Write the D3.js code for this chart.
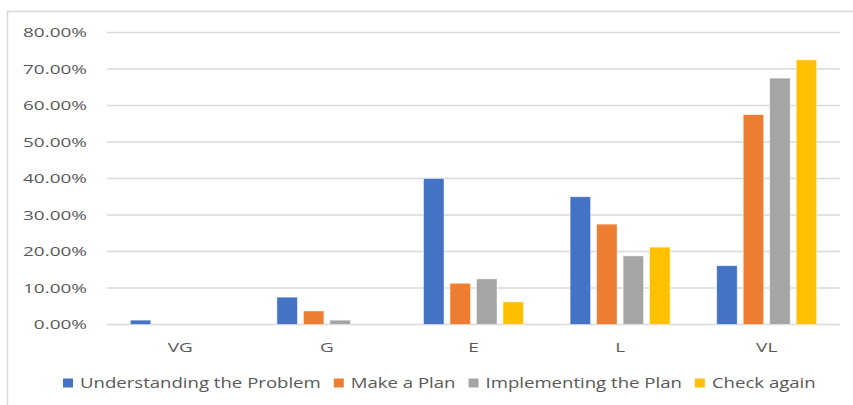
<!DOCTYPE html>
<html><head><meta charset="utf-8">
<script src="https://cdn.jsdelivr.net/npm/d3@7"></script>
<style>
html,body{margin:0;padding:0;background:#fff;}
svg{display:block;font-family:"Open Sans","Noto Sans",sans-serif;}
</style></head>
<body>
<svg id="chart" width="853" height="405"></svg>
<script>
const categories = ["VG", "G", "E", "L", "VL"];
const seriesNames = ["Understanding the Problem", "Make a Plan", "Implementing the Plan", "Check again"];
const understanding = [1.2, 7.5, 40.0, 35.0, 16.1];
const makePlan = [0, 3.7, 11.3, 27.5, 57.5];
const implementing = [0, 1.2, 12.5, 18.8, 67.5];
const checkAgain = [0, 0, 6.2, 21.2, 72.5];
const colors = ["#4472C4", "#ED7D31", "#A5A5A5", "#FFC000"];
const yTicks = [0, 10, 20, 30, 40, 50, 60, 70, 80];

(function () {
const series = [understanding, makePlan, implementing, checkAgain];
const svg = d3.select("#chart");
const textColor = "#595959";
const fontFam = "\"Open Sans\",sans-serif";

function measure(str, size) {
  const t = svg.append("text").attr("font-family", fontFam).attr("font-size", size).text(str);
  const w = t.node().getComputedTextLength();
  t.remove();
  return w;
}

// border
svg.append("path").attr("d", "M7.5,405 L7.5,11.5 L853,11.5")
  .attr("fill", "none").attr("stroke", "#d9d9d9").attr("stroke-width", 1.5);

const pLeft = 107, pRight = 840, pTop = 32.5, pBottom = 324.5;
const x0 = d3.scaleBand().domain(categories).range([pLeft, pRight]).paddingInner(0.318).paddingOuter(0.159);
const x1 = d3.scaleBand().domain(d3.range(4)).range([0, x0.bandwidth()]).paddingInner(0.226).paddingOuter(0);
const y = d3.scaleLinear().domain([0, 80]).range([pBottom, pTop]);

// gridlines
svg.append("g").selectAll("line").data(yTicks).join("line")
  .attr("x1", pLeft).attr("x2", pRight)
  .attr("y1", d => y(d)).attr("y2", d => y(d))
  .attr("stroke", "#d9d9d9").attr("stroke-width", 1.5);

// y axis labels
const axisSize = 12.5;
const sx = 64 / measure("80.00%", axisSize);
const yAxis = svg.append("g").attr("transform", `translate(${pLeft},0)`)
  .call(d3.axisLeft(y).tickValues(yTicks).tickSize(0).tickPadding(0).tickFormat(d => d3.format(".2f")(d) + "%"));
yAxis.select(".domain").remove();
yAxis.selectAll("text")
  .attr("font-family", fontFam).attr("font-size", axisSize)
  .attr("fill", textColor).attr("text-anchor", "end")
  .attr("x", -20 / sx).attr("transform", `scale(${sx},1)`);

// bars
const groups = svg.append("g").selectAll("g").data(categories).join("g")
  .attr("transform", d => `translate(${x0(d)},0)`);
groups.selectAll("rect")
  .data((c, ci) => series.map((s, si) => ({si, v: s[ci]})).filter(d => d.v > 0))
  .join("rect")
  .attr("x", d => x1(d.si)).attr("width", x1.bandwidth())
  .attr("y", d => y(d.v)).attr("height", d => y(0) - y(d.v))
  .attr("fill", d => colors[d.si])
  .attr("stroke", "#ffffff").attr("stroke-opacity", 0.6).attr("stroke-width", 0.8);

// x axis labels
const xAxis = svg.append("g").attr("transform", `translate(0,${pBottom})`)
  .call(d3.axisBottom(x0).tickSize(0).tickPadding(0));
xAxis.select(".domain").remove();
xAxis.selectAll(".tick").each(function (d) {
  const g = d3.select(this);
  const cx = x0(d) + x0.bandwidth() / 2;
  g.attr("transform", null);
  g.select("text")
    .attr("font-family", fontFam).attr("font-size", axisSize)
    .attr("fill", textColor).attr("dy", "0.35em").attr("y", 23)
    .attr("x", cx / sx).attr("transform", `scale(${sx},1)`);
});

// legend
const legendY = 383;
const legendSize = 14.5;
const legendSx = 241 / measure(seriesNames[0], legendSize);
const legend = svg.append("g");
let lx = 63;
seriesNames.forEach((name, i) => {
  legend.append("rect").attr("x", lx).attr("y", legendY - 4.5).attr("width", 10).attr("height", 9).attr("fill", colors[i]);
  const tx = lx + 17;
  const t = legend.append("text").attr("x", tx / legendSx).attr("y", legendY)
    .attr("dy", "0.35em").attr("font-size", legendSize).attr("fill", textColor)
    .attr("font-family", fontFam)
    .attr("transform", `scale(${legendSx},1)`).text(name);
  const w = t.node().getComputedTextLength() * legendSx;
  lx = tx + w + 13;
});
})();
</script>
</body></html>
